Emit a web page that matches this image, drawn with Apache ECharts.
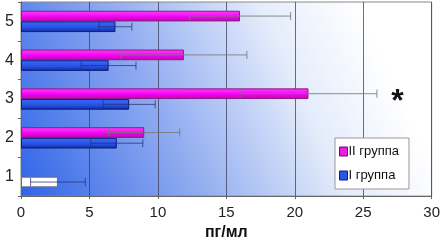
<!DOCTYPE html>
<html><head><meta charset="utf-8">
<script src="https://cdn.jsdelivr.net/npm/echarts@6/dist/echarts.min.js"></script>
<style>html,body{margin:0;padding:0;background:#fff}#c{width:443px;height:246px}</style>
</head><body><div id="c"></div>
<script>
var categories = ['1','2','3','4','5'];
var group1 = [2.7, 7.0, 7.9, 6.4, 6.9];
var group1Err = [2.0, 1.9, 1.9, 2.0, 1.2];
var group2 = [null, 9.0, 21.0, 11.9, 16.0];
var group2Err = [null, 2.6, 5.0, 4.6, 3.7];
var xTicks = [0, 5, 10, 15, 20, 25, 30];
var seriesNames = ['II группа', 'I группа'];
var annotations = [{ x: 27.5, cat: '3', text: '*' }];

var chart = echarts.init(document.getElementById('c'), null, {renderer: 'canvas'});
var G = echarts.graphic;
var FONT = 'Liberation Sans, Arial, sans-serif';

function errData(vals, errs, si) {
  var out = [];
  for (var i = 0; i < vals.length; i++) {
    if (vals[i] == null) continue;
    out.push([i, vals[i] - errs[i], vals[i] + errs[i], si]);
  }
  return out;
}

function errRender(params, api) {
  var cat = api.value(0), lo = api.value(1), hi = api.value(2), si = api.value(3);
  var bw = api.size([0, 1])[1];
  var barH = bw * 0.275;
  var c = api.coord([0, cat]);
  var cy = si === 0 ? c[1] + barH / 2 : c[1] - barH / 2;
  var p1 = api.coord([lo, cat])[0], p2 = api.coord([hi, cat])[0];
  var cap = barH * 0.38;
  var col = si === 0 ? 'rgba(40,50,110,0.75)' : 'rgba(120,120,120,0.85)';
  var st = {stroke: col, lineWidth: 1};
  return {type: 'group', children: [
    {type: 'line', shape: {x1: p1, y1: cy, x2: p2, y2: cy}, style: st},
    {type: 'line', shape: {x1: p1, y1: cy - cap, x2: p1, y2: cy + cap}, style: st},
    {type: 'line', shape: {x1: p2, y1: cy - cap, x2: p2, y2: cy + cap}, style: st}
  ]};
}

var pinkFill = new G.LinearGradient(0, 0, 0, 1, [{offset: 0, color: '#ff40ff'}, {offset: 0.6, color: '#f000f0'}, {offset: 1, color: '#b0109e'}]);
var blueFill = new G.LinearGradient(0, 0, 0, 1, [{offset: 0, color: '#3a6cff'}, {offset: 0.6, color: '#2550e0'}, {offset: 1, color: '#14289a'}]);

var g1Data = group1.map(function (v, i) {
  if (i === 0) return {value: v, itemStyle: {color: '#ffffff', borderColor: '#6a6a8a', borderWidth: 1}};
  return v;
});

chart.setOption({
  animation: false,
  grid: {
    left: 21, right: 9, top: 2, bottom: 42, show: true,
    borderColor: '#888', borderWidth: 1,
    backgroundColor: new G.LinearGradient(0, 1, 1, 0, [
      {offset: 0, color: '#2f64e8'},
      {offset: 0.35, color: '#8eaaf0'},
      {offset: 0.65, color: '#e4ecfb'},
      {offset: 0.85, color: '#ffffff'},
      {offset: 1, color: '#ffffff'}
    ])
  },
  legend: {
    data: [
      {name: seriesNames[0], icon: 'rect', itemStyle: {color: '#e81ee0', borderColor: '#6a1060', borderWidth: 1}},
      {name: seriesNames[1], icon: 'rect', itemStyle: {color: '#2a55e6', borderColor: '#0a1f70', borderWidth: 1}}
    ],
    orient: 'vertical', left: 335, top: 138, width: 88,
    padding: [7, 10, 7, 4], itemGap: 11, itemWidth: 8, itemHeight: 9,
    backgroundColor: '#ffffff', borderColor: '#999', borderWidth: 1,
    textStyle: {fontFamily: FONT, fontSize: 13, color: '#111', padding: [0, 0, 0, -4]}
  },
  xAxis: {
    type: 'value', min: 0, max: 30, interval: 5,
    name: 'пг/мл', nameLocation: 'middle', nameGap: 27,
    nameTextStyle: {fontFamily: FONT, fontSize: 16, fontWeight: 'bold', color: '#111'},
    axisLine: {show: true, lineStyle: {color: '#666'}},
    axisTick: {show: true, length: 3, lineStyle: {color: '#666'}},
    axisLabel: {fontFamily: FONT, fontSize: 15, color: '#222', margin: 9,
      formatter: function (v) { return xTicks.indexOf(v) >= 0 ? String(v) : ''; }},
    splitLine: {show: true, lineStyle: {color: 'rgba(60,60,90,0.75)', width: 1}}
  },
  yAxis: {
    type: 'category', data: categories,
    axisLine: {show: true, lineStyle: {color: '#666'}},
    axisTick: {show: true, length: 3, lineStyle: {color: '#666'}},
    axisLabel: {fontFamily: FONT, fontSize: 16, color: '#222', margin: 7},
    splitLine: {show: false}
  },
  series: [
    {name: seriesNames[0], type: 'bar', data: group2, barWidth: '27.5%', barGap: '0%',
      itemStyle: {color: pinkFill, borderColor: '#8c1a80', borderWidth: 1}, z: 2},
    {name: seriesNames[1], type: 'bar', data: g1Data, barWidth: '27.5%', barGap: '0%',
      itemStyle: {color: blueFill, borderColor: '#0e1f80', borderWidth: 1}, z: 2},
    {type: 'custom', renderItem: errRender, data: errData(group1, group1Err, 0),
      encode: {x: [1, 2], y: 0}, z: 5, silent: true},
    {type: 'custom', renderItem: errRender, data: errData(group2, group2Err, 1),
      encode: {x: [1, 2], y: 0}, z: 5, silent: true},
    {type: 'custom', z: 6, silent: true,
      data: annotations.map(function (a) { return [a.x, categories.indexOf(a.cat), a.text]; }),
      renderItem: function (params, api) {
        var p = api.coord([api.value(0), api.value(1)]);
        return {type: 'text', x: p[0], y: p[1] + 3, style: {
          text: annotations[params.dataIndex].text, fontFamily: FONT, fontSize: 32, fontWeight: 'bold',
          fill: '#111', align: 'center', verticalAlign: 'middle'}};
      }}
  ]
});
</script></body></html>
